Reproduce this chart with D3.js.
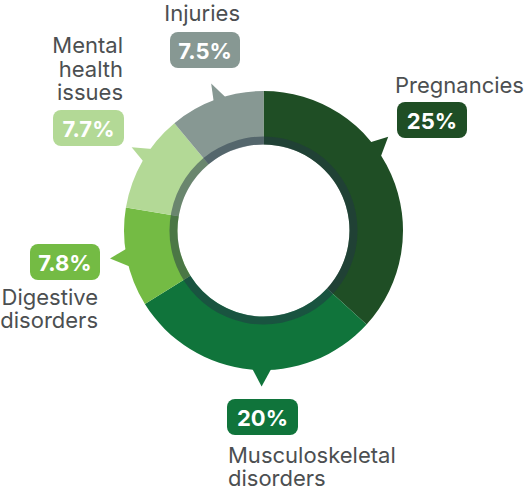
<!DOCTYPE html>
<html><head><meta charset="utf-8">
<script src="https://cdn.jsdelivr.net/npm/d3@7"></script>
<style>body{margin:0;background:#fff} svg{display:block}</style>
</head><body><svg id="c" width="525" height="495"></svg>
<script>
// ---- data ----
const categories = ["Pregnancies", "Musculoskeletal disorders", "Digestive disorders", "Mental health issues", "Injuries"];
const values = [25, 20, 7.8, 7.7, 7.5];
const valueLabels = ["25%", "20%", "7.8%", "7.7%", "7.5%"];
const labelLines = [["Pregnancies"], ["Musculoskeletal", "disorders"], ["Digestive", "disorders"], ["Mental", "health", "issues"], ["Injuries"]];
const colors = ["#1f4e25", "#10743b", "#74bb44", "#b3d996", "#879893"];

// ---- layout ----
const W = 525, H = 495, cx = 263.5, cy = 230.5;
const R = 139.5, r0 = 86, ringW = 8, tipR = 156;
const pointerAngles = [[49.9, 58.8, 53.1], [176, 185.5, 180.7], [253.9, 262.9, 259.7], [299.4, 306.9, 302.3], [338.6, 344.9, 340.4]];
const labelLayout = [
  {bx: 397, by: 102, bw: 70, anchor: "start", tx: 395, ty: [93]},
  {bx: 227, by: 399, bw: 71, anchor: "start", tx: 228, ty: [463, 486]},
  {bx: 30, by: 244, bw: 70, anchor: "end", tx: 98, ty: [305, 328]},
  {bx: 53, by: 110, bw: 71, anchor: "end", tx: 123, ty: [53, 77, 100]},
  {bx: 170, by: 32, bw: 70, anchor: "end", tx: 240, ty: [21]}
];

const svg = d3.select("#c");
const color = d3.scaleOrdinal().domain(categories).range(colors);
const pie = d3.pie().sort(null).value(d => d.v);
const data = pie(categories.map((c, i) => ({c, v: values[i], i})));
const arc = d3.arc().innerRadius(r0).outerRadius(R);

const g = svg.append("g").attr("transform", `translate(${cx},${cy})`);
const rad = a => a * Math.PI / 180;
const pt = (a, r) => [r * Math.sin(rad(a)), -r * Math.cos(rad(a))];

// pointers
g.selectAll("path.ptr").data(data).join("path")
  .attr("class", "ptr")
  .attr("fill", d => color(d.data.c))
  .attr("d", d => {
    const [a1, a2, t] = pointerAngles[d.data.i];
    return "M" + pt(a1, R - 4) + "L" + pt(t, tipR) + "L" + pt(a2, R - 4) + "Z";
  });

// slices
g.selectAll("path.slice").data(data).join("path")
  .attr("class", "slice")
  .attr("fill", d => color(d.data.c))
  .attr("d", arc);

// inner dark ring
g.append("path")
  .attr("d", d3.arc().innerRadius(r0).outerRadius(r0 + ringW).startAngle(0).endAngle(2 * Math.PI)())
  .attr("fill", "#213446").attr("fill-opacity", 0.5);

// labels
data.forEach(d => {
  const i = d.data.i, L = labelLayout[i];
  svg.append("rect").attr("x", L.bx).attr("y", L.by).attr("width", L.bw).attr("height", 36)
    .attr("rx", 8).attr("fill", color(d.data.c));
  svg.append("text").attr("x", L.bx + L.bw / 2).attr("y", L.by + 26.5)
    .attr("text-anchor", "middle").attr("fill", "#fff")
    .style("font-family", "Inter").style("font-weight", 700).style("font-size", "22px")
    .text(valueLabels[i]);
  labelLines[i].forEach((line, k) => {
    svg.append("text").attr("x", L.tx).attr("y", L.ty[k])
      .attr("text-anchor", L.anchor).attr("fill", "#4c4f51")
      .style("font-family", "Inter").style("font-size", "22px").style("letter-spacing", "0px")
      .text(line);
  });
});
</script></body></html>
